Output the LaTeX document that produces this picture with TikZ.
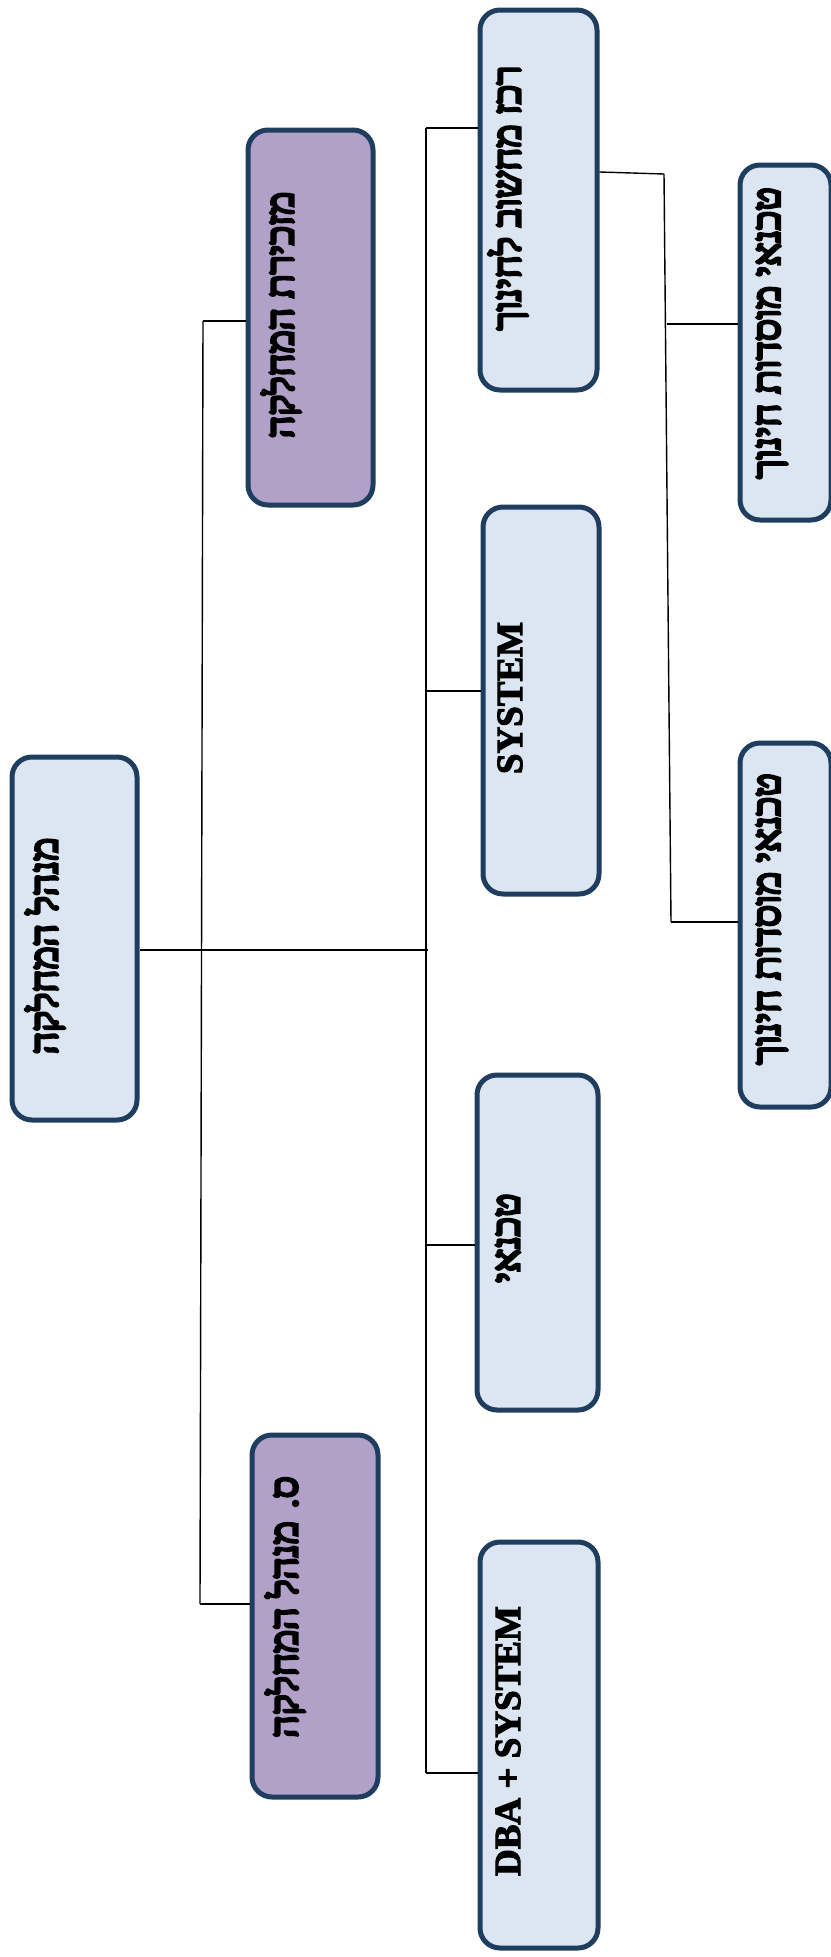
\documentclass[tikz,border=0pt]{standalone}
\usepackage{fontspec}
\setmainfont{Liberation Serif}
\newfontfamily\engfont[FakeBold=3]{Liberation Serif Bold}
\newfontfamily\hebfont[Script=Hebrew, FakeBold=7]{Liberation Serif}
\TeXXeTstate=1
\definecolor{boxblue}{HTML}{DBE6F2}
\definecolor{boxpurple}{HTML}{B1A0C7}
\definecolor{boxline}{HTML}{1F3D5E}
\begin{document}
\begin{tikzpicture}[x=1pt,y=-1pt,
  box/.style={draw=boxline, line width=5pt, rounded corners=20pt, inner sep=0pt, anchor=north west},
  bluebox/.style={box, fill=boxblue},
  purplebox/.style={box, fill=boxpurple},
  heb/.style={rotate=90, inner sep=0pt, font=\hebfont\fontsize{39}{44}\selectfont},
  eng/.style={rotate=90, inner sep=0pt, font=\engfont\fontsize{37}{42}\selectfont},
  conn/.style={line width=1.4pt, black}]
\useasboundingbox (0,0) rectangle (830,1957);
% boxes
\node[bluebox, minimum width=125pt, minimum height=363pt] (mgr) at (9.5,754.5) {};
\node[purplebox, minimum width=125pt, minimum height=375pt] (sec) at (245.5,127.5) {};
\node[purplebox, minimum width=126pt, minimum height=362pt] (smgr) at (249.5,1432.5) {};
\node[bluebox, minimum width=117pt, minimum height=380pt] (rakaz) at (477.5,7.5) {};
\node[bluebox, minimum width=116pt, minimum height=387pt] (sys) at (480.5,504.5) {};
\node[bluebox, minimum width=121pt, minimum height=335pt] (tech) at (474.5,1072.5) {};
\node[bluebox, minimum width=118pt, minimum height=406pt] (dba) at (477.5,1539.5) {};
\node[bluebox, minimum width=91pt, minimum height=355pt] (techa) at (737.5,162.5) {};
\node[bluebox, minimum width=91pt, minimum height=364pt] (techb) at (737.5,740.5) {};
% labels
\node[heb] (tmgr) at (45,946) {\beginR מנהל המחלקה\endR};
\node[heb] (tsec) at (281,315) {\beginR מזכירת המחלקה\endR};
\node[heb] (tsmgr) at (285,1607) {\beginR ס. מנהל המחלקה\endR};
\node[heb] (trakaz) at (508,198) {\beginR רכז מחשוב לחינוך\endR};
\node[eng] (tsys) at (510,698) {SYSTEM};
\node[heb] (ttech) at (508,1238) {\beginR טכנאי\endR};
\node[eng] (tdba) at (508,1741) {DBA + SYSTEM};
\node[heb] (ttecha) at (772,333) {\beginR טכנאי מוסדות חינוך\endR};
\node[heb] (ttechb) at (772,919) {\beginR טכנאי מוסדות חינוך\endR};
% spine coordinates
\coordinate (ltop) at (203,321);
\coordinate (lbot) at (200,1604);
\coordinate (rtop) at (426,128);
\coordinate (rbot) at (426,1773);
\coordinate (rmid) at (428,950);
\coordinate (ktop) at (664,174);
\coordinate (kbot) at (671,922);
% connectors
\draw[conn] (mgr.east |- rmid) -- (rmid);
\draw[conn] (ltop) -- (lbot);
\draw[conn] (ltop) -- (ltop -| sec.west);
\draw[conn] (lbot) -- (lbot -| smgr.west);
\draw[conn] (rtop) -- (rbot);
\draw[conn] (rtop) -- (rtop -| rakaz.west);
\draw[conn] (426,691) coordinate (rs) -- (rs -| sys.west);
\draw[conn] (426,1245) coordinate (rt) -- (rt -| tech.west);
\draw[conn] (rbot) -- (rbot -| dba.west);
\draw[conn] (rakaz.east |- 0,172) -- (ktop);
\draw[conn] (ktop) -- (kbot);
\draw[conn] (667,324) coordinate (ka) -- (ka -| techa.west);
\draw[conn] (kbot) -- (kbot -| techb.west);
\end{tikzpicture}
\end{document}
